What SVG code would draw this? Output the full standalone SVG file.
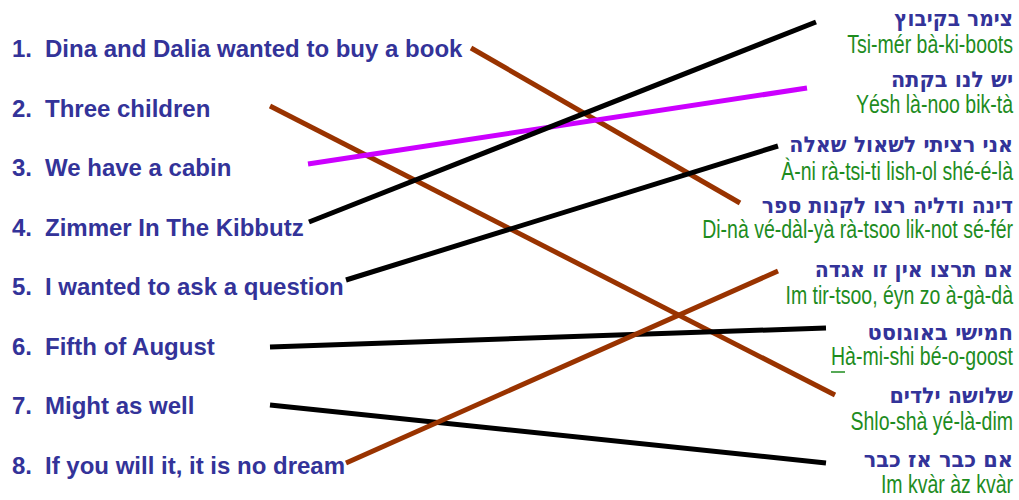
<svg xmlns="http://www.w3.org/2000/svg" width="1019" height="500" viewBox="0 0 1019 500">
<style>
.en{font-family:"Liberation Sans",Arial,sans-serif;font-weight:bold;font-size:24px;fill:#333399}
.he{font-family:"DejaVu Sans","Liberation Sans",Arial,sans-serif;font-weight:bold;font-size:22px;fill:#333399;text-anchor:end}
.tr{font-family:"Liberation Sans",Arial,sans-serif;font-size:25px;fill:#1e8c1e;text-anchor:end}
.c{stroke-width:5;fill:none}
.k{stroke:#000}
.b{stroke:#993300}
.m{stroke:#cc00ff}
</style>
<rect width="1019" height="500" fill="#fff"/>
<g id="left-1"><text class="en" x="12" y="57">1.<tspan x="45">Dina and Dalia wanted to buy a book</tspan></text></g>
<g id="left-2"><text class="en" x="12" y="116.5">2.<tspan x="45">Three children</tspan></text></g>
<g id="left-3"><text class="en" x="12" y="176">3.<tspan x="45">We have a cabin</tspan></text></g>
<g id="left-4"><text class="en" x="12" y="235.5">4.<tspan x="45">Zimmer In The Kibbutz</tspan></text></g>
<g id="left-5"><text class="en" x="12" y="295">5.<tspan x="45">I wanted to ask a question</tspan></text></g>
<g id="left-6"><text class="en" x="12" y="354.5">6.<tspan x="45">Fifth of August</tspan></text></g>
<g id="left-7"><text class="en" x="12" y="414">7.<tspan x="45">Might as well</tspan></text></g>
<g id="left-8"><text class="en" x="12" y="473.5">8.<tspan x="45">If you will it, it is no dream</tspan></text></g>

<g id="right-1"><text class="he" transform="translate(1013,26) scale(0.92,1)">צימר בקיבוץ</text><text class="tr" transform="translate(1013,53) scale(0.78,1)">Tsi-mér bà-ki-boots</text></g>
<g id="right-2"><text class="he" transform="translate(1013,87) scale(0.945,1)">יש לנו בקתה</text><text class="tr" transform="translate(1013,113) scale(0.78,1)">Yésh là-noo bik-tà</text></g>
<g id="right-3"><text class="he" transform="translate(1013,152) scale(0.937,1)">אני רציתי לשאול שאלה</text><text class="tr" transform="translate(1013,180) scale(0.78,1)">À-ni rà-tsi-ti lish-ol shé-é-là</text></g>
<g id="right-4"><text class="he" transform="translate(1013,213) scale(0.93,1)">דינה ודליה רצו לקנות ספר</text><text class="tr" transform="translate(1013,238) scale(0.78,1)">Di-nà vé-dàl-yà rà-tsoo lik-not sé-fér</text></g>
<g id="right-5"><text class="he" transform="translate(1013,277) scale(0.934,1)">אם תרצו אין זו אגדה</text><text class="tr" transform="translate(1013,304) scale(0.78,1)">Im tir-tsoo, éyn zo à-gà-dà</text></g>
<g id="right-6"><text class="he" transform="translate(1013,340) scale(0.954,1)">חמישי באוגוסט</text><text class="tr" transform="translate(1013,365) scale(0.78,1)">Hà-mi-shi bé-o-goost</text><line x1="831" y1="372" x2="845" y2="372" stroke="#1e8c1e" stroke-width="1.5"/></g>
<g id="right-7"><text class="he" transform="translate(1013,403) scale(0.94,1)">שלושה ילדים</text><text class="tr" transform="translate(1013,430) scale(0.78,1)">Shlo-shà yé-là-dim</text></g>
<g id="right-8"><text class="he" transform="translate(1013,467) scale(0.949,1)">אם כבר אז כבר</text><text class="tr" transform="translate(1013,493) scale(0.78,1)">Im kvàr àz kvàr</text></g>

<g id="connectors">
<line class="c b" x1="471" y1="48" x2="740" y2="203"/>
<line class="c b" x1="270" y1="106" x2="835" y2="395"/>
<line class="c m" x1="308" y1="164" x2="807" y2="88"/>
<line class="c k" x1="309" y1="222" x2="816" y2="22"/>
<line class="c k" x1="346" y1="280" x2="778" y2="146"/>
<line class="c k" x1="270" y1="347" x2="826" y2="328"/>
<line class="c k" x1="270" y1="405" x2="826" y2="463"/>
<line class="c b" x1="346" y1="463" x2="778" y2="271"/>
</g>
</svg>
